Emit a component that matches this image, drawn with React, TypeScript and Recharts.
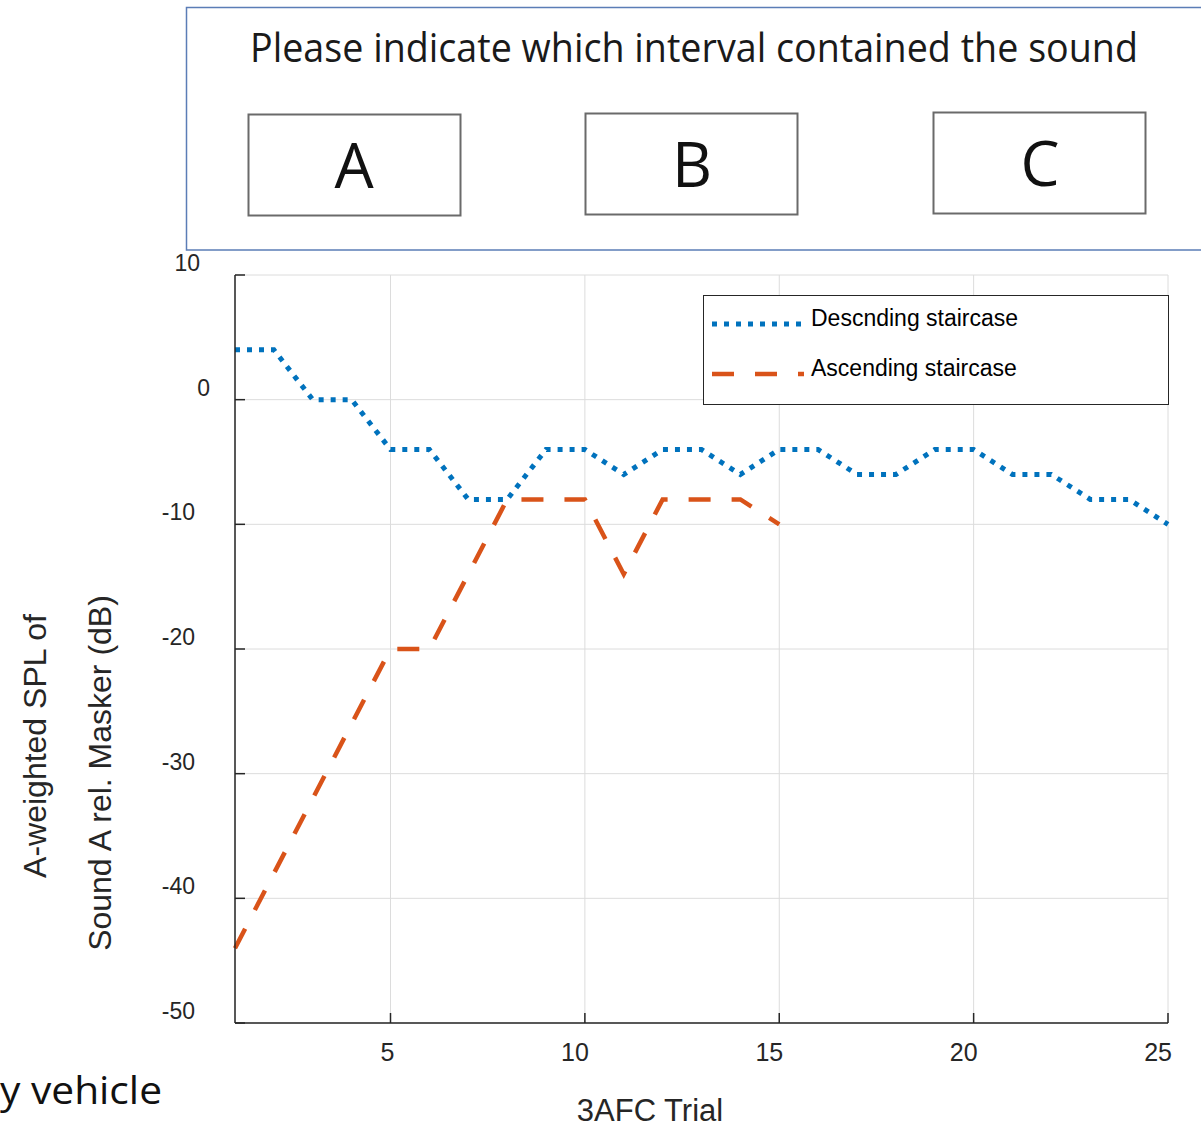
import React from 'react';
import { LineChart, Line, XAxis, YAxis, CartesianGrid, Legend, Label } from 'recharts';

// ---------- data ----------
const trials = [1, 2, 3, 4, 5, 6, 7, 8, 9, 10, 11, 12, 13, 14, 15, 16, 17, 18, 19, 20, 21, 22, 23, 24, 25];
const descending = [4, 4, 0, 0, -4, -4, -8, -8, -4, -4, -6, -4, -4, -6, -4, -4, -6, -6, -4, -4, -6, -6, -8, -8, -10];
const ascending = [-44, -38, -32, -26, -20, -20, -14, -8, -8, -8, -14, -8, -8, -8, -10];
const xTicks = [5, 10, 15, 20, 25];
const yTicks = [-50, -40, -30, -20, -10, 0, 10];
const seriesNames = ['Descnding staircase', 'Ascending staircase'];
const xTitle = '3AFC Trial';
const yTitleLines = ['A-weighted SPL of', 'Sound A rel. Masker (dB)'];
const panelTitle = 'Please indicate which interval contained the sound';
const intervalLabels = ['A', 'B', 'C'];
const cutText = 'y vehicle';

const data = trials.map((t, i) => ({
  trial: t,
  desc: descending[i],
  asc: i < ascending.length ? ascending[i] : null,
}));

// ---------- styles ----------
const AXIS = '#262626';
const BLUE = '#0072BD';
const ORANGE = '#D95319';
const ARIAL = '"Liberation Sans", Arial, sans-serif';
const CAL = '"Open Sans", "Noto Sans", sans-serif';

const seriesStyle = [
  { color: BLUE, width: 5, dash: '5 7' },
  { color: ORANGE, width: 4.5, dash: '22 21' },
];

const BottomTick = (props: any) => {
  const { x, y, payload } = props;
  return (
    <g>
      <line x1={x} y1={y} x2={x} y2={y - 10} stroke={AXIS} strokeWidth={1.5} />
      <text x={x + 4} y={y + 29} textAnchor="end" dominantBaseline="central" fontFamily={ARIAL} fontSize={25} fill={AXIS}>
        {payload.value}
      </text>
    </g>
  );
};

const TopTick = (props: any) => {
  const { x, y } = props;
  return <line x1={x} y1={y} x2={x} y2={y + 10} stroke={AXIS} strokeWidth={1.5} />;
};

const yLabelRight = (v: number) => (v === 10 ? 200 : v === 0 ? 210 : 195);

const LeftTick = (props: any) => {
  const { x, y, payload } = props;
  return (
    <g>
      <line x1={x} y1={y} x2={x + 10} y2={y} stroke={AXIS} strokeWidth={1.5} />
      <text x={yLabelRight(payload.value)} y={y - 12} textAnchor="end" dominantBaseline="central" fontFamily={ARIAL} fontSize={23} fill={AXIS}>
        {payload.value}
      </text>
    </g>
  );
};

const RightTick = (props: any) => {
  const { x, y } = props;
  return <line x1={x} y1={y} x2={x - 10} y2={y} stroke={AXIS} strokeWidth={1.5} />;
};

const renderLegend = (props: any) => {
  const payload = (props.payload || []) as any[];
  const ordered = seriesNames.map((name) => payload.find((p) => p.value === name) || { value: name });
  return (
    <div
      style={{
        width: '100%',
        height: '100%',
        boxSizing: 'border-box',
        border: `1.5px solid ${AXIS}`,
        background: '#fff',
        position: 'relative',
      }}
    >
      <svg width={466} height={110} style={{ position: 'absolute', left: -1.5, top: -1.5 }}>
        {ordered.map((entry, i) => {
          const st = seriesStyle[i];
          const cy = 29 + i * 50;
          return (
            <g key={i}>
              <line x1={9} y1={cy} x2={101} y2={cy} stroke={entry.color || st.color} strokeWidth={st.width} strokeDasharray={st.dash} />
              <text x={108} y={cy - 6} dominantBaseline="central" fontFamily={ARIAL} fontSize={23} fill="#000">
                {entry.value}
              </text>
            </g>
          );
        })}
      </svg>
    </div>
  );
};

const XTitle = () => (
  <text x={650} y={1121} textAnchor="middle" fontFamily={ARIAL} fontSize={31} fill={AXIS}>
    {xTitle}
  </text>
);

const YTitle = () => (
  <g>
    <text transform="translate(35 746) rotate(-90)" textAnchor="middle" dominantBaseline="central" fontFamily={ARIAL} fontSize={32} fill={AXIS}>
      {yTitleLines[0]}
    </text>
    <text transform="translate(100 773) rotate(-90)" textAnchor="middle" dominantBaseline="central" fontFamily={ARIAL} fontSize={32} fill={AXIS}>
      {yTitleLines[1]}
    </text>
  </g>
);

const boxes = [
  { x: 248.5, y: 114.5, cx: 354, base: 188 },
  { x: 585.5, y: 113.5, cx: 692, base: 187 },
  { x: 933.5, y: 112.5, cx: 1040, base: 186 },
];

export default function App() {
  return (
    <div style={{ position: 'absolute', left: 0, top: 0, width: 1201, height: 1128, background: '#fff', overflow: 'hidden' }}>
      <LineChart width={1201} height={1128} data={data} margin={{ top: 275, right: 33, bottom: 0, left: 0 }}>
        <CartesianGrid stroke="#dcdcdc" strokeWidth={1} />
        <XAxis
          dataKey="trial"
          type="number"
          domain={[1, 25]}
          ticks={xTicks}
          interval={0}
          height={105}
          tickSize={0}
          tickMargin={0}
          tickLine={false}
          axisLine={{ stroke: AXIS, strokeWidth: 1.5 }}
          tick={<BottomTick />}
        >
          <Label content={<XTitle />} />
        </XAxis>
        <XAxis
          xAxisId="top"
          orientation="top"
          dataKey="trial"
          type="number"
          domain={[1, 25]}
          ticks={xTicks}
          interval={0}
          height={0}
          tickSize={0}
          tickMargin={0}
          tickLine={false}
          axisLine={{ stroke: AXIS, strokeWidth: 1.5 }}
          tick={<TopTick />}
        />
        <YAxis
          type="number"
          domain={[-50, 10]}
          ticks={yTicks}
          interval={0}
          width={235}
          tickSize={0}
          tickMargin={0}
          tickLine={false}
          axisLine={{ stroke: AXIS, strokeWidth: 1.5 }}
          tick={<LeftTick />}
        >
          <Label content={<YTitle />} />
        </YAxis>
        <YAxis
          yAxisId="right"
          orientation="right"
          type="number"
          domain={[-50, 10]}
          ticks={yTicks}
          interval={0}
          width={0}
          tickSize={0}
          tickMargin={0}
          tickLine={false}
          axisLine={{ stroke: AXIS, strokeWidth: 1.5 }}
          tick={<RightTick />}
        />
        <Line
          type="linear"
          dataKey="desc"
          name={seriesNames[0]}
          stroke={BLUE}
          strokeWidth={5}
          strokeDasharray="5 7"
          dot={false}
          activeDot={false}
          isAnimationActive={false}
        />
        <Line
          type="linear"
          dataKey="asc"
          name={seriesNames[1]}
          stroke={ORANGE}
          strokeWidth={4.5}
          strokeDasharray="22 21"
          dot={false}
          activeDot={false}
          connectNulls={false}
          isAnimationActive={false}
        />
        <Legend
          verticalAlign="middle"
          content={renderLegend}
          wrapperStyle={{ position: 'absolute', left: 703, top: 295, width: 466, height: 110, margin: 0 }}
        />
      </LineChart>
      <svg width={1201} height={1128} style={{ position: 'absolute', left: 0, top: 0, pointerEvents: 'none' }}>
        <rect x={186.5} y={7.5} width={1030} height={242.5} fill="none" stroke="#5b7db6" strokeWidth={1.5} />
        <text x={250} y={62} textLength={888} lengthAdjust="spacingAndGlyphs" fontFamily={CAL} fontSize={40} fill="#1a1a1a">
          {panelTitle}
        </text>
        {intervalLabels.map((lab, i) => (
          <g key={lab}>
            <rect x={boxes[i].x} y={boxes[i].y} width={212} height={101} fill="none" stroke="#6a6a6a" strokeWidth={2} />
            <text x={boxes[i].cx} y={boxes[i].base} textAnchor="middle" fontFamily={CAL} fontSize={62} fill="#111">
              {lab}
            </text>
          </g>
        ))}
        <text x={0} y={1104} textLength={162} lengthAdjust="spacingAndGlyphs" fontFamily={CAL} fontSize={38} fill="#111">
          {cutText}
        </text>
      </svg>
    </div>
  );
}
